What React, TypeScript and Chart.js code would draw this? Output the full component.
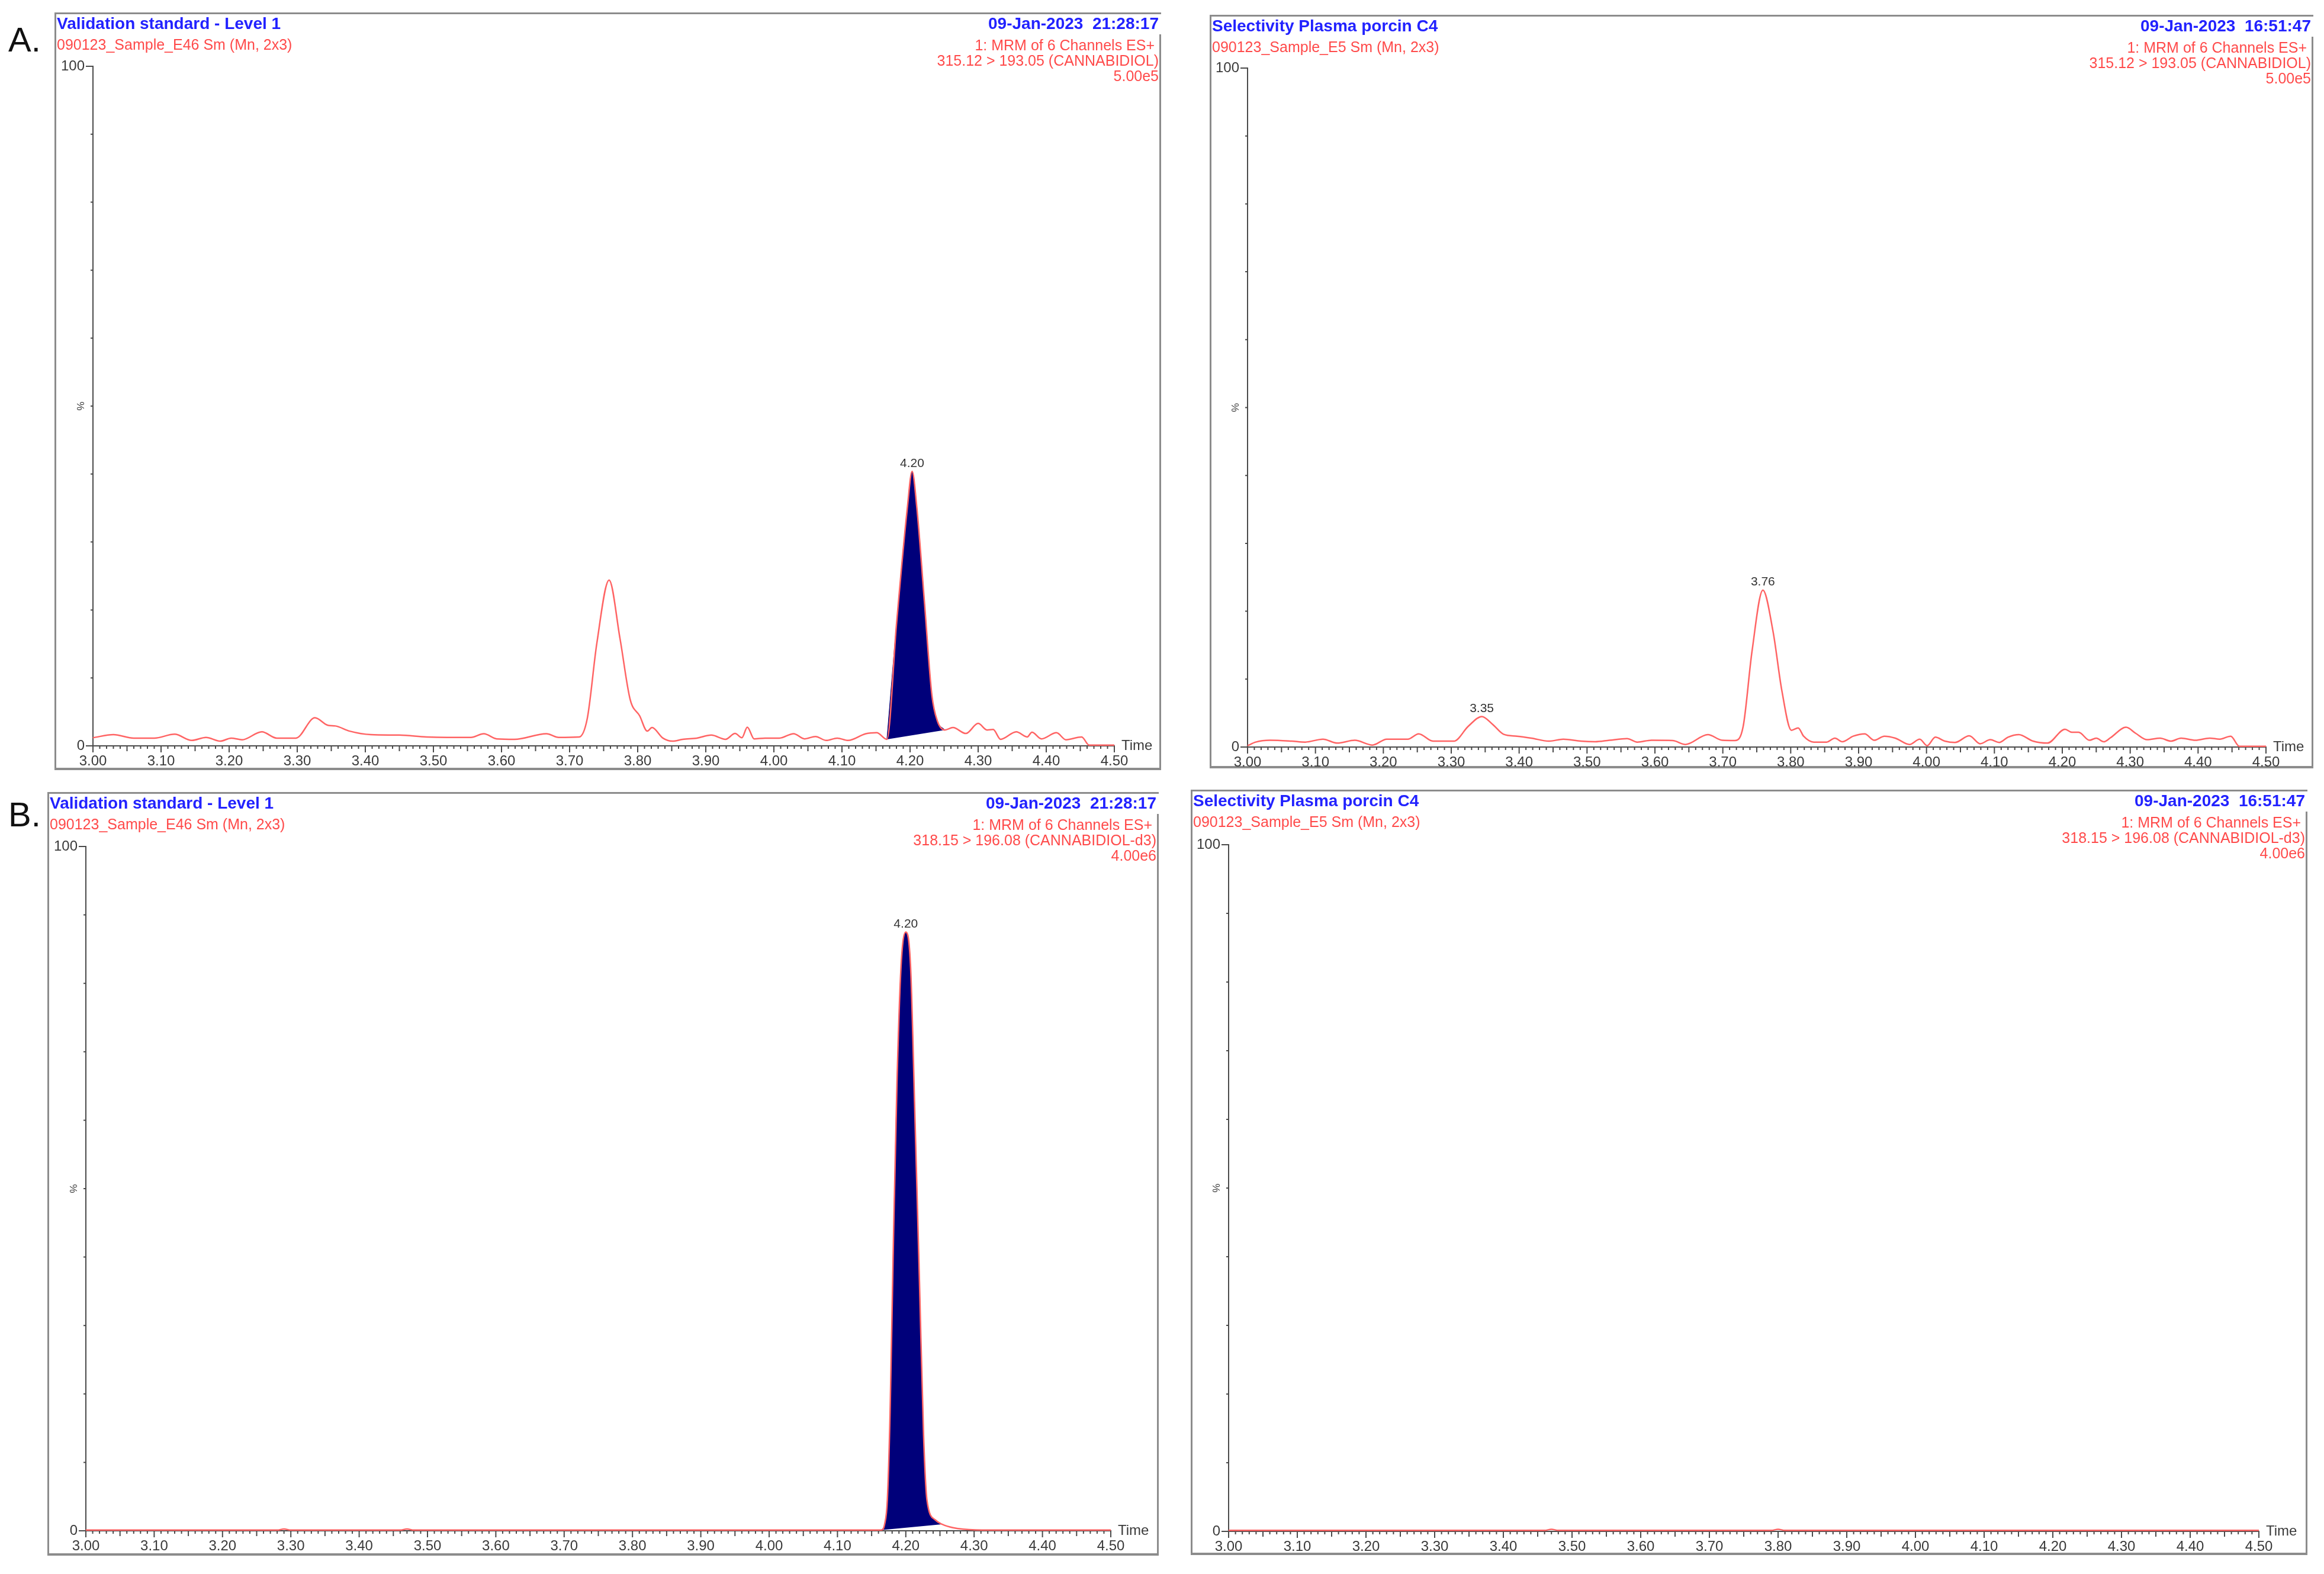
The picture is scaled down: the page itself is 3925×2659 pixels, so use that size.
import { useEffect, useRef } from 'react';
import { Chart, registerables } from 'chart.js';

Chart.register(...registerables);

const FONT = '"Liberation Sans", Arial, Helvetica, sans-serif';
const BLUE = '#2222ff';
const RED_TEXT = '#ff4a4a';
const RED_TRACE = '#ff6464';
const NAVY = '#00007a';
const AXIS = '#4a4a4a';
const FRAME = '#8c8c8c';

// A, left: validation standard level 1, CBD transition 315.12 > 193.05
const stdCbdTimes = [3.0, 3.03, 3.06, 3.09, 3.12, 3.145, 3.166, 3.187, 3.203, 3.219, 3.248, 3.27, 3.298, 3.326, 3.345, 3.356, 3.377, 3.408, 3.45, 3.49, 3.52, 3.555, 3.574, 3.593, 3.619, 3.666, 3.684, 3.714, 3.726, 3.74, 3.758, 3.774, 3.789, 3.803, 3.814, 3.821, 3.837, 3.851, 3.866, 3.887, 3.908, 3.929, 3.943, 3.953, 3.961, 3.971, 3.987, 4.008, 4.029, 4.045, 4.061, 4.077, 4.093, 4.109, 4.135, 4.151, 4.166, 4.18, 4.196, 4.203, 4.21, 4.221, 4.232, 4.24, 4.251, 4.263, 4.282, 4.3, 4.313, 4.322, 4.333, 4.356, 4.372, 4.379, 4.393, 4.415, 4.429, 4.452, 4.463, 4.5];
const stdCbdIntensity = [1.2, 1.65, 1.14, 1.14, 1.72, 0.8, 1.24, 0.69, 1.14, 0.9, 2.07, 1.14, 1.14, 4.13, 3.03, 2.93, 2.17, 1.65, 1.58, 1.31, 1.24, 1.24, 1.79, 1.03, 0.96, 1.79, 1.24, 1.31, 4.06, 15.1, 24.4, 15.8, 6.8, 4.4, 2.17, 2.69, 1.14, 0.69, 0.96, 1.14, 1.58, 0.96, 1.82, 1.2, 2.75, 1.03, 1.14, 1.14, 1.79, 1.03, 1.38, 0.8, 1.14, 0.8, 1.79, 1.93, 0.96, 17.8, 35.0, 40.4, 35.0, 21.3, 7.5, 3.7, 2.34, 2.69, 1.82, 3.3, 2.34, 2.41, 0.96, 2.07, 1.31, 2.0, 1.03, 1.93, 0.9, 1.31, 0.1, 0.1];
const stdCbdWindow = [4.166, 4.251];
const stdCbdLabelTimes = [4.203];

// A, right: selectivity plasma porcin C4, CBD transition
const blankCbdTimes = [3.0, 3.012, 3.033, 3.065, 3.085, 3.111, 3.132, 3.158, 3.184, 3.205, 3.236, 3.252, 3.273, 3.304, 3.325, 3.345, 3.361, 3.377, 3.397, 3.418, 3.444, 3.465, 3.491, 3.512, 3.533, 3.559, 3.574, 3.595, 3.626, 3.645, 3.678, 3.699, 3.718, 3.73, 3.743, 3.759, 3.774, 3.787, 3.801, 3.811, 3.819, 3.834, 3.853, 3.865, 3.876, 3.892, 3.909, 3.923, 3.938, 3.954, 3.975, 3.99, 4.001, 4.013, 4.027, 4.042, 4.063, 4.079, 4.094, 4.107, 4.12, 4.136, 4.157, 4.178, 4.204, 4.214, 4.224, 4.24, 4.25, 4.261, 4.271, 4.294, 4.308, 4.325, 4.344, 4.36, 4.375, 4.396, 4.417, 4.432, 4.448, 4.461, 4.5];
const blankCbdIntensity = [0.2, 0.73, 1.0, 0.87, 0.73, 1.16, 0.58, 1.0, 0.29, 1.16, 1.16, 1.95, 0.87, 0.87, 3.05, 4.5, 3.34, 1.89, 1.6, 1.31, 0.87, 1.16, 0.87, 0.78, 1.0, 1.25, 0.73, 1.0, 0.96, 0.38, 1.83, 1.0, 0.96, 3.05, 14.1, 23.1, 17.0, 8.28, 2.47, 2.82, 1.6, 0.73, 0.73, 1.31, 0.78, 1.6, 1.95, 1.0, 1.6, 1.31, 0.38, 1.16, 0.2, 1.45, 0.87, 0.67, 1.66, 0.49, 1.08, 0.67, 1.45, 1.83, 0.87, 0.58, 2.62, 2.18, 2.18, 1.0, 1.31, 0.78, 1.37, 2.91, 2.03, 1.08, 1.31, 0.87, 1.31, 1.0, 1.31, 1.16, 1.6, 0.1, 0.1];
const blankCbdLabelTimes = [3.345, 3.759];

// B, left: validation standard level 1, CBD-d3 transition 318.15 > 196.08
const stdIsTimes = [3.0, 3.1, 3.2, 3.28, 3.29, 3.3, 3.4, 3.46, 3.47, 3.48, 3.6, 3.8, 4.0, 4.1, 4.155, 4.164, 4.169, 4.173, 4.177, 4.182, 4.187, 4.193, 4.2, 4.207, 4.213, 4.22, 4.226, 4.231, 4.243, 4.253, 4.269, 4.302, 4.35, 4.4, 4.5];
const stdIsIntensity = [0.1, 0.1, 0.1, 0.1, 0.25, 0.1, 0.1, 0.1, 0.25, 0.1, 0.1, 0.1, 0.1, 0.1, 0.1, 0.1, 0.96, 4.5, 17.2, 42.8, 65.1, 82.4, 87.5, 82.4, 61.9, 36.4, 14.0, 4.47, 1.6, 0.96, 0.45, 0.13, 0.1, 0.1, 0.1];
const stdIsWindow = [4.164, 4.26];
const stdIsLabelTimes = [4.2];

// B, right: selectivity plasma porcin C4, CBD-d3 transition
const blankIsTimes = [3.0, 3.46, 3.47, 3.48, 3.79, 3.8, 3.81, 4.5];
const blankIsIntensity = [0.15, 0.15, 0.3, 0.15, 0.15, 0.3, 0.15, 0.15];

const Y_AXIS_W = 55;
const X_AXIS_H = 40;

type Panel = {
  frame: number[]; // x0, y0, x1, y1
  area: number[]; // left, top, right, bottom
  title: string;
  sample: string;
  date: string;
  transition: string;
  scaleText: string;
  times: number[];
  intensity: number[];
  window: number[] | null;
  labelTimes: number[];
};

const panels: Panel[] = [
  {
    frame: [92, 21, 1961, 1301], area: [157, 112, 1882, 1260],
    title: 'Validation standard - Level 1', sample: '090123_Sample_E46 Sm (Mn, 2x3)',
    date: '09-Jan-2023  21:28:17', transition: '315.12 > 193.05 (CANNABIDIOL)', scaleText: '5.00e5',
    times: stdCbdTimes, intensity: stdCbdIntensity, window: stdCbdWindow, labelTimes: stdCbdLabelTimes,
  },
  {
    frame: [2043, 25, 3907, 1298], area: [2107, 115, 3827, 1262],
    title: 'Selectivity Plasma porcin C4', sample: '090123_Sample_E5 Sm (Mn, 2x3)',
    date: '09-Jan-2023  16:51:47', transition: '315.12 > 193.05 (CANNABIDIOL)', scaleText: '5.00e5',
    times: blankCbdTimes, intensity: blankCbdIntensity, window: null, labelTimes: blankCbdLabelTimes,
  },
  {
    frame: [80, 1338, 1957, 2628], area: [145, 1430, 1876, 2586],
    title: 'Validation standard - Level 1', sample: '090123_Sample_E46 Sm (Mn, 2x3)',
    date: '09-Jan-2023  21:28:17', transition: '318.15 > 196.08 (CANNABIDIOL-d3)', scaleText: '4.00e6',
    times: stdIsTimes, intensity: stdIsIntensity, window: stdIsWindow, labelTimes: stdIsLabelTimes,
  },
  {
    frame: [2011, 1334, 3897, 2627], area: [2075, 1427, 3815, 2587],
    title: 'Selectivity Plasma porcin C4', sample: '090123_Sample_E5 Sm (Mn, 2x3)',
    date: '09-Jan-2023  16:51:47', transition: '318.15 > 196.08 (CANNABIDIOL-d3)', scaleText: '4.00e6',
    times: blankIsTimes, intensity: blankIsIntensity, window: null, labelTimes: [],
  },
];

// axis tick marks, "Time", "%" and the peak retention-time labels
const decor = (p: Panel) => ({
  id: 'msDecor',
  beforeDatasetsDraw(chart: any) {
    const { ctx, chartArea: a, scales } = chart;
    const xs = scales.x;
    const ys = scales.y;
    ctx.save();
    ctx.strokeStyle = AXIS;
    ctx.lineWidth = 2;
    ctx.beginPath();
    for (let i = 0; i <= 150; i++) {
      const px = xs.getPixelForValue(3 + i / 100);
      const len = i % 10 === 0 ? 11 : i % 5 === 0 ? 9 : 5;
      ctx.moveTo(px, a.bottom);
      ctx.lineTo(px, a.bottom + len);
    }
    for (let j = 0; j <= 10; j++) {
      const py = ys.getPixelForValue(j * 10);
      const len = j % 10 === 0 ? 12 : 4;
      ctx.moveTo(a.left, py);
      ctx.lineTo(a.left - len, py);
    }
    ctx.stroke();
    ctx.fillStyle = '#3a3a3a';
    ctx.font = `24px ${FONT}`;
    ctx.textAlign = 'left';
    ctx.textBaseline = 'middle';
    ctx.fillText('Time', a.right + 12, a.bottom);
    ctx.translate(a.left - 20, ys.getPixelForValue(50));
    ctx.rotate(-Math.PI / 2);
    ctx.font = `17px ${FONT}`;
    ctx.textAlign = 'center';
    ctx.fillText('%', 0, 0);
    ctx.restore();
  },
  afterDatasetsDraw(chart: any) {
    const { ctx, scales } = chart;
    ctx.save();
    ctx.fillStyle = '#333';
    ctx.font = `21px ${FONT}`;
    ctx.textAlign = 'center';
    ctx.textBaseline = 'bottom';
    p.labelTimes.forEach((tm) => {
      let k = 0;
      p.times.forEach((v, i) => {
        if (Math.abs(v - tm) < Math.abs(p.times[k] - tm)) k = i;
      });
      ctx.fillText(tm.toFixed(2), scales.x.getPixelForValue(tm), scales.y.getPixelForValue(p.intensity[k]) - 3);
    });
    ctx.restore();
  },
});

function Chromatogram({ p }: { p: Panel }) {
  const canvasRef = useRef<HTMLCanvasElement | null>(null);
  const [x0, y0, x1, y1] = p.frame;
  const [l, t, r, b] = p.area;
  const w = x1 - x0;
  const h = y1 - y0;

  useEffect(() => {
    if (!canvasRef.current) {
      return;
    }
    const trace = p.times.map((x, i) => ({ x, y: p.intensity[i] }));
    const datasets: any[] = [
      {
        data: trace,
        borderColor: RED_TRACE,
        borderWidth: 2.5,
        pointRadius: 0,
        cubicInterpolationMode: 'monotone',
        fill: false,
        clip: false,
        order: 0,
      },
    ];
    if (p.window) {
      const [s, e] = p.window;
      datasets.push({
        data: trace.filter((pt) => pt.x >= s && pt.x <= e),
        borderColor: NAVY,
        backgroundColor: NAVY,
        borderWidth: 1,
        pointRadius: 0,
        cubicInterpolationMode: 'monotone',
        fill: 'shape',
        order: 1,
      });
    }
    const tickFont = { family: FONT, size: 24 };
    const chart = new Chart(canvasRef.current, {
      type: 'line',
      data: { datasets },
      options: {
        animation: false,
        responsive: false,
        events: [],
        layout: {
          padding: { left: l - x0 - Y_AXIS_W, top: t - y0, right: x1 - r, bottom: y1 - b - X_AXIS_H },
        },
        plugins: { legend: { display: false }, tooltip: { enabled: false } },
        scales: {
          x: {
            type: 'linear',
            min: 3,
            max: 4.5,
            grid: { display: false, drawTicks: false },
            border: { display: true, color: AXIS, width: 2 },
            ticks: {
              stepSize: 0.1,
              autoSkip: false,
              maxRotation: 0,
              padding: 12,
              color: '#3a3a3a',
              font: tickFont,
              callback: (v: any) => Number(v).toFixed(2),
            },
            afterFit: (s: any) => {
              s.height = X_AXIS_H;
            },
          },
          y: {
            type: 'linear',
            min: 0,
            max: 100,
            grid: { display: false, drawTicks: false },
            border: { display: true, color: AXIS, width: 2 },
            ticks: { stepSize: 100, padding: 14, color: '#3a3a3a', font: tickFont },
            afterFit: (s: any) => {
              s.width = Y_AXIS_W;
            },
          },
        },
      },
      plugins: [decor(p)],
    });
    return () => chart.destroy();
  }, [p]);

  const line = (top: number, size: number, bold: boolean, color: string, right: boolean, text: string) => (
    <div
      style={{
        position: 'absolute',
        top,
        left: right ? undefined : x0 + 4,
        right: right ? 3925 - (x1 - 4) : undefined,
        fontFamily: FONT,
        fontSize: size,
        fontWeight: bold ? 700 : 400,
        lineHeight: 1,
        color,
        whiteSpace: 'pre',
      }}
    >
      {text}
    </div>
  );

  return (
    <>
      <div
        style={{
          position: 'absolute',
          left: x0,
          top: y0,
          width: w,
          height: h,
          boxSizing: 'border-box',
          borderTop: `3px solid ${FRAME}`,
          borderLeft: `3px solid ${FRAME}`,
          borderBottom: `4px solid ${FRAME}`,
        }}
      />
      <div style={{ position: 'absolute', left: x1 - 3, top: y0 + 37, width: 3, height: h - 37, background: FRAME }} />
      <canvas ref={canvasRef} width={w} height={h} style={{ position: 'absolute', left: x0, top: y0, width: w, height: h }} />
      {line(y0 + 5, 28, true, BLUE, false, p.title)}
      {line(y0 + 42, 25, false, RED_TEXT, false, p.sample)}
      {line(y0 + 5, 28, true, BLUE, true, p.date)}
      {line(y0 + 43, 25, false, RED_TEXT, true, '1: MRM of 6 Channels ES+ ')}
      {line(y0 + 69, 25, false, RED_TEXT, true, p.transition)}
      {line(y0 + 95, 25, false, RED_TEXT, true, p.scaleText)}
    </>
  );
}

export default function App() {
  const letter = (top: number, text: string) => (
    <div style={{ position: 'absolute', left: 14, top, fontFamily: FONT, fontSize: 58, lineHeight: 1, color: '#111' }}>
      {text}
    </div>
  );
  return (
    <div style={{ position: 'absolute', left: 0, top: 0, width: 3925, height: 2659, background: '#fff', overflow: 'hidden' }}>
      {letter(38, 'A.')}
      {letter(1347, 'B.')}
      {panels.map((p, i) => (
        <Chromatogram key={i} p={p} />
      ))}
    </div>
  );
}
